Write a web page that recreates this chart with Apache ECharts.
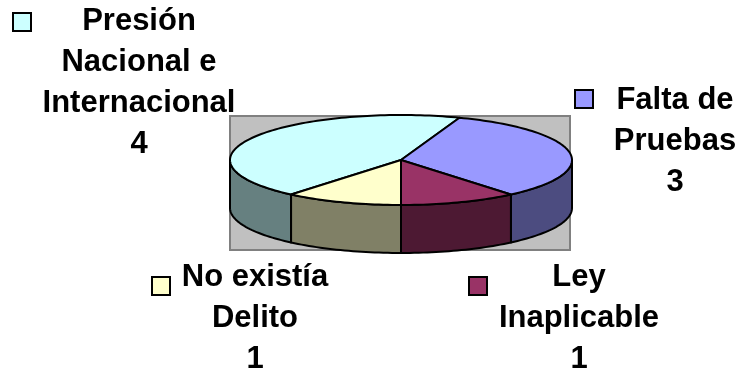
<!DOCTYPE html>
<html>
<head>
<meta charset="utf-8">
<script src="https://cdn.jsdelivr.net/npm/echarts@6/dist/echarts.min.js"></script>
<style>
html,body{margin:0;padding:0;background:#fff;}
#chart{width:739px;height:375px;}
</style>
</head>
<body>
<div id="chart"></div>
<script>
// ---- data ----
var categories = ['Presión\nNacional e\nInternacional', 'Falta de\nPruebas', 'Ley\nInaplicable', 'No existía\nDelito'];
var values = [4, 3, 1, 1];
var topColors = ['#CCFFFF', '#9999FF', '#993366', '#FFFFCC'];
var sideColors = ['#668080', '#4C4C80', '#4D1933', '#808066'];

// ---- layout (not data) ----
var CX = 401, CY = 160, RX = 171, RY = 45, DEPTH = 48;
var START = 320; // degrees; 0 = front (bottom), 90 = right, 180 = back
var labelPos = [
  {x: 139, y: 0.5, key: [13, 13]},
  {x: 675, y: 80, key: [575, 90]},
  {x: 579, y: 257, key: [469, 277]},
  {x: 255, y: 257, key: [152, 277]}
];

var total = values.reduce(function (a, b) { return a + b; }, 0);

function pt(deg, dy) {
  var r = deg * Math.PI / 180;
  return [CX + RX * Math.sin(r), CY + RY * Math.cos(r) + (dy || 0)];
}
function arcPts(a, b, dy) {
  var pts = [];
  var n = Math.max(2, Math.ceil(Math.abs(b - a) / 1.5));
  for (var i = 0; i <= n; i++) pts.push(pt(a + (b - a) * i / n, dy));
  return pts;
}

var chart = echarts.init(document.getElementById('chart'), null, {renderer: 'canvas'});
chart.setOption({
  backgroundColor: '#ffffff',
  animation: false,
  graphic: [{
    type: 'rect', z: -10, silent: true,
    shape: {x: 230, y: 116, width: 340, height: 134},
    style: {fill: '#C0C0C0', stroke: '#808080', lineWidth: 2}
  }],
  series: [{
    type: 'custom',
    coordinateSystem: 'none',
    silent: true,
    data: values,
    renderItem: function (params, api) {
      var i = params.dataIndex;
      var v = api.value(0);
      var cum = 0;
      for (var k = 0; k < i; k++) cum += values[k];
      var hi = START - 360 * cum / total;
      var lo = hi - 360 * v / total;
      var children = [];
      // side faces (front-facing part)
      for (var m = -1; m <= 1; m++) {
        var a = Math.max(lo, -90 + 360 * m), b = Math.min(hi, 90 + 360 * m);
        if (b > a) {
          var pts = arcPts(a, b, 0).concat(arcPts(b, a, DEPTH));
          children.push({
            type: 'polygon', z2: 1,
            shape: {points: pts},
            style: {fill: sideColors[i], stroke: '#000', lineWidth: 2, lineJoin: 'round'}
          });
        }
      }
      // top face
      var topPts = [[CX, CY]].concat(arcPts(hi, lo, 0));
      children.push({
        type: 'polygon', z2: 5,
        shape: {points: topPts},
        style: {fill: topColors[i], stroke: '#000', lineWidth: 2, lineJoin: 'round'}
      });
      // legend key square
      var lp = labelPos[i];
      children.push({
        type: 'rect', z2: 6,
        shape: {x: lp.key[0], y: lp.key[1], width: 18, height: 18},
        style: {fill: topColors[i], stroke: '#000', lineWidth: 2}
      });
      // label text
      children.push({
        type: 'text', z2: 6,
        style: {
          text: categories[i] + '\n' + v,
          x: lp.x, y: lp.y,
          align: 'center', verticalAlign: 'top',
          fontFamily: '"Liberation Sans", Arial, sans-serif',
          fontWeight: 'bold', fontSize: 31, lineHeight: 41,
          fill: '#000'
        }
      });
      return {type: 'group', children: children};
    }
  }]
});
</script>
</body>
</html>
